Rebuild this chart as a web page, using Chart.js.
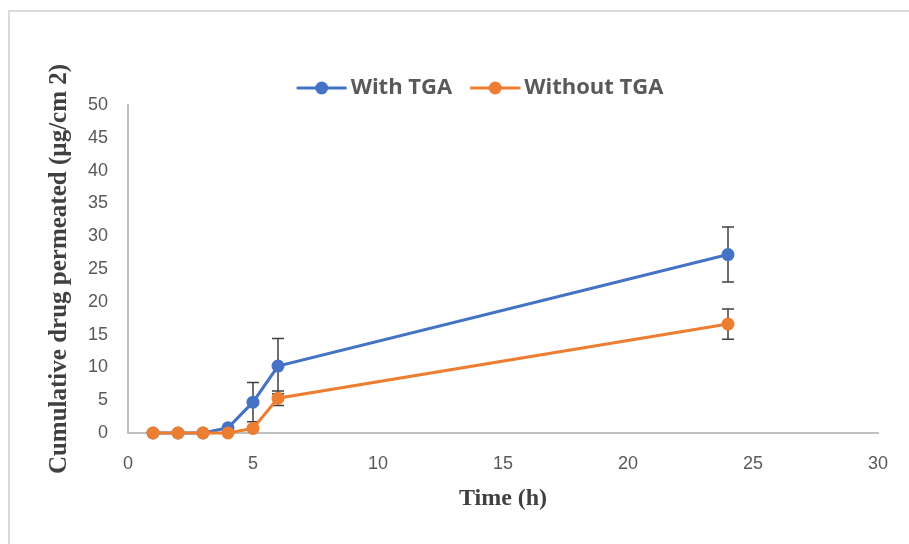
<!DOCTYPE html>
<html>
<head>
<meta charset="utf-8">
<script src="https://cdn.jsdelivr.net/npm/chart.js@4"></script>
<style>
  html, body { margin: 0; padding: 0; background: #fff; overflow: hidden; }
  #wrap { position: relative; width: 909px; height: 544px; }
  #frame { position: absolute; left: 8px; top: 10px; width: 940px; height: 600px; border: 2px solid #dadada; box-sizing: border-box; }
  #grafico { position: absolute; left: 0; top: 0; }
</style>
</head>
<body>
<div id="wrap">
  <div id="frame"></div>
  <canvas id="grafico" width="909" height="544"></canvas>
</div>
<script>
var hours = [1, 2, 3, 4, 5, 6, 24];
var withTGA = [0, 0, 0, 0.8, 4.7, 10.2, 27.2];
var withoutTGA = [0, 0, 0, 0, 0.7, 5.3, 16.6];
var errWith = [0, 0, 0, 0, 3.0, 4.2, 4.2];
var errWithout = [0, 0, 0, 0, 0, 1.1, 2.3];
var xTicks = [0, 5, 10, 15, 20, 25, 30];
var yTicks = [0, 5, 10, 15, 20, 25, 30, 35, 40, 45, 50];

var blue = '#4472C4';
var orange = '#ED7D31';

function toPoints(vals) {
    return hours.map(function (h, i) { return { x: h, y: vals[i] }; });
}

// legend symbol: short line with a dot in the middle (offset so the gaps match)
function legendIcon(color) {
    var c = document.createElement('canvas');
    c.width = 60; c.height = 16;
    var g = c.getContext('2d');
    g.strokeStyle = color;
    g.lineWidth = 3;
    g.beginPath(); g.moveTo(9.5, 8); g.lineTo(59.5, 8); g.stroke();
    g.fillStyle = color;
    g.beginPath(); g.arc(34.5, 8, 6.5, 0, Math.PI * 2); g.fill();
    return c;
}

var errorBars = {
    id: 'errorBars',
    beforeLayout: function (chart) {
        // legend leaves a bit too much room below itself
        var lg = chart.legend;
        if (lg && !lg._trimmed) {
            var fit = lg.fit;
            lg.fit = function () { fit.call(this); this.height -= 4; };
            lg._trimmed = true;
        }
    },
    beforeDatasetsDraw: function (chart) {
        var ctx = chart.ctx;
        var xs = chart.scales.x, ys = chart.scales.y;
        var errs = [errWith, errWithout];
        ctx.save();
        ctx.strokeStyle = '#404040';
        ctx.lineWidth = 1.5;
        chart.data.datasets.forEach(function (ds, di) {
            ds.data.forEach(function (p, i) {
                var e = errs[di][i];
                if (!e) return;
                var px = xs.getPixelForValue(p.x);
                var top = ys.getPixelForValue(p.y + e);
                var bot = ys.getPixelForValue(p.y - e);
                ctx.beginPath();
                ctx.moveTo(px, top); ctx.lineTo(px, bot);
                ctx.moveTo(px - 6, top); ctx.lineTo(px + 6, top);
                ctx.moveTo(px - 6, bot); ctx.lineTo(px + 6, bot);
                ctx.stroke();
            });
        });
        ctx.restore();
    }
};

var data = {
    datasets: [{
        label: 'With TGA',
        data: toPoints(withTGA),
        borderColor: blue,
        backgroundColor: blue,
        borderWidth: 3,
        pointRadius: 6.5,
        pointBorderWidth: 0,
        pointStyle: 'circle',
        clip: false,
        order: 2
    },
    {
        label: 'Without TGA',
        data: toPoints(withoutTGA),
        borderColor: orange,
        backgroundColor: orange,
        borderWidth: 3,
        pointRadius: 6.5,
        pointBorderWidth: 0,
        pointStyle: 'circle',
        clip: false,
        order: 1
    }]
};

var tickFont = { family: "'Liberation Sans Narrow', 'Liberation Sans', sans-serif", size: 18 };
var titleFont = { family: "'Liberation Serif', serif", size: 24, weight: 'bold' };

var options = {
    responsive: false,
    animation: false,
    layout: { padding: { left: 80, right: 31, top: 61, bottom: 11 } },
    plugins: {
        tooltip: { enabled: false },
        legend: {
            position: 'top',
            labels: {
                color: '#595959',
                font: { family: "'Open Sans', sans-serif", size: 22, weight: 'bold' },
                usePointStyle: true,
                pointStyleWidth: 45,
                padding: 16,
                sort: function (a, b) { return a.datasetIndex - b.datasetIndex; },
                generateLabels: function (chart) {
                    return chart.data.datasets.map(function (ds, i) {
                        return {
                            text: ds.label,
                            fontColor: '#595959',
                            pointStyle: legendIcon(ds.borderColor),
                            datasetIndex: i,
                            lineWidth: 0,
                            hidden: false
                        };
                    });
                }
            }
        }
    },
    scales: {
        x: {
            type: 'linear',
            min: 0,
            max: 30,
            afterFit: function (s) { s.height = 100; },
            afterBuildTicks: function (s) { s.ticks = xTicks.map(function (v) { return { value: v }; }); },
            grid: { display: false, drawTicks: false },
            border: { color: '#bfbfbf', width: 2 },
            ticks: { color: '#595959', font: tickFont, padding: 20, maxRotation: 0 },
            title: { display: true, text: 'Time (h)', color: '#404040', font: titleFont, padding: { top: 0, bottom: 20 } }
        },
        y: {
            min: 0,
            max: 50,
            afterFit: function (s) { s.width = 48; },
            afterBuildTicks: function (s) { s.ticks = yTicks.map(function (v) { return { value: v }; }); },
            grid: { display: false, drawTicks: false },
            border: { color: '#bfbfbf', width: 2 },
            ticks: { color: '#595959', font: tickFont, padding: 20 },
            title: {
                display: true,
                text: 'Cumulative drug permeated (µg/cm 2)',
                color: '#404040',
                font: { family: "'Liberation Serif', serif", size: 25, weight: 'bold' },
                padding: { top: -35, bottom: 0 }
            }
        }
    }
};

var ctx = document.querySelector('#grafico').getContext('2d');
var lineChart = new Chart(ctx, {
    type: 'line',
    data: data,
    options: options,
    plugins: [errorBars]
});
</script>
</body>
</html>
